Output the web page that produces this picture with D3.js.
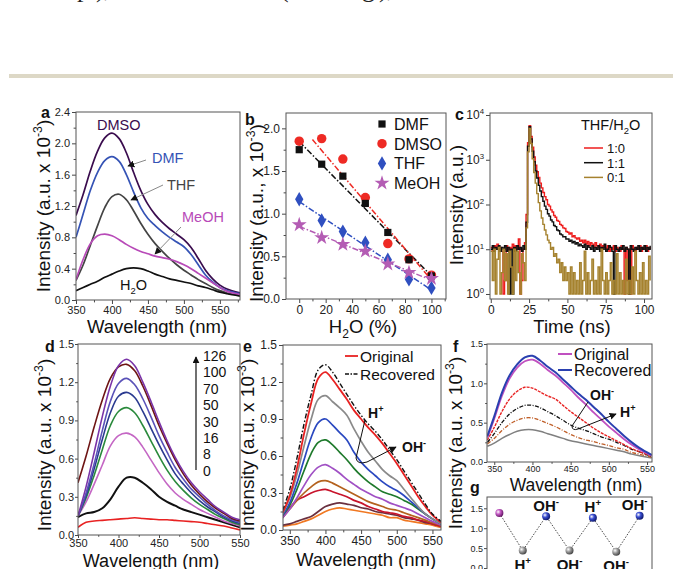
<!DOCTYPE html>
<html><head><meta charset="utf-8">
<script src="https://cdn.jsdelivr.net/npm/d3@7"></script>
<style>
body{margin:0;background:#fff}
svg{display:block;font-family:Arial,"Liberation Sans",Helvetica,sans-serif}
</style></head><body>
<svg id="fig" width="673" height="569"></svg>
<script>
// ================= DATA =================
// (a) emission spectra in different solvents
const aWavelength = [350,360,370,380,390,400,410,420,430,440,450,460,470,480,490,500,510,520,530,540,550,560,578];
const aDMSO = [1.08,1.35,1.65,1.90,2.07,2.13,2.06,1.88,1.63,1.40,1.22,1.09,0.99,0.91,0.84,0.77,0.67,0.53,0.38,0.27,0.19,0.14,0.09];
const aDMF  = [0.80,1.10,1.40,1.63,1.78,1.83,1.77,1.60,1.38,1.18,1.04,0.95,0.87,0.80,0.74,0.68,0.58,0.45,0.32,0.23,0.16,0.12,0.08];
const aTHF  = [0.25,0.45,0.70,0.95,1.18,1.32,1.35,1.28,1.14,0.98,0.84,0.72,0.62,0.53,0.45,0.38,0.32,0.26,0.21,0.16,0.12,0.09,0.06];
const aMeOH = [0.26,0.52,0.72,0.82,0.84,0.82,0.77,0.71,0.66,0.62,0.59,0.56,0.54,0.52,0.49,0.45,0.40,0.34,0.28,0.22,0.16,0.11,0.07];
const aH2O  = [0.12,0.16,0.20,0.24,0.29,0.33,0.37,0.40,0.41,0.40,0.37,0.33,0.30,0.27,0.25,0.23,0.21,0.18,0.16,0.13,0.10,0.08,0.05];
const aSolvents = ["DMSO","DMF","THF","MeOH","H2O"];

// (b) intensity vs water fraction
const bWater = [0,17,33,50,67,83,100];
const bDMF  = [1.75,1.58,1.44,1.12,0.78,0.46,0.27];
const bDMSO = [1.85,1.88,1.64,1.19,0.65,0.47,0.28];
const bTHF  = [1.17,0.92,0.79,0.66,0.46,0.23,0.13];
const bMeOH = [0.87,0.72,0.64,0.56,0.41,0.31,0.24];
const bNames = ["DMF","DMSO","THF","MeOH"];
const bFitRange = [[0,100],[10,98],[0,100],[0,100]];

// (c) fluorescence decay, counts per 1 ns channel starting at 0 ns
const cStep = 1;
const cRed = [11,9,12,10,13,10,11,9,1,2,12,9,11,10,13,9,12,10,17,1,2,10,14,
  60,2400,5800,3300,1900,1150,760,540,400,300,235,185,150,128,100,92,76,68,57,52,44,42,36,34,30,29,25,24,22,23,19,20,18,17,18,15,16,14,16,13,15,12,14,13,11,14,12,11,13,10,12,11,10,12,9,11,10,12,9,11,10,9,12,10,1,11,2,10,1,12,10,9,11,10,12,9,11,10,12,9,11,10];
const cBlack = [10,12,9,11,10,12,9,11,10,12,9,11,1,10,1,11,9,12,10,11,9,12,10,
  40,2000,5500,2900,1550,900,560,390,270,200,150,118,92,78,62,55,45,41,34,32,27,26,22,21,19,19,17,17,15,16,14,15,13,14,12,13,12,11,13,10,12,11,10,12,9,11,10,
  12,9,11,10,13,9,10,12,11,9,1,12,10,9,11,10,12,9,11,10,1,12,10,9,11,10,12,9,11,10,12,9,11,10,12];
const cGold = [9,2,10,1,6,11,1,3,10,2,8,1,9,4,1,10,2,9,3,1,8,5,2,
  30,1500,5000,2300,1050,520,300,175,110,72,50,36,27,21,16,14,10,11,7,8,5,6,3,5,2,4,2,3,1,4,1,
  3,1,2,1,5,1,2,9,1,3,1,2,6,1,2,1,4,1,10,2,1,3,1,2,5,1,2,1,8,1,3,1,2,1,6,1,2,1,4,1,9,2,1,3,1,5,1,2,1,7,2];
const cRatios = ["1:0","1:1","0:1"];

// (d) spectra vs concentration
const dWavelength = [350,360,370,380,390,400,410,420,430,440,450,460,470,480,490,500,510,520,530,540,550];
const d0   = [0.06,0.10,0.11,0.115,0.12,0.125,0.13,0.135,0.13,0.125,0.12,0.12,0.115,0.11,0.105,0.10,0.09,0.08,0.07,0.055,0.04];
const d8   = [0.14,0.17,0.18,0.21,0.28,0.38,0.45,0.45,0.41,0.36,0.30,0.26,0.23,0.20,0.18,0.16,0.14,0.12,0.10,0.08,0.06];
const d16  = [0.15,0.26,0.40,0.55,0.70,0.78,0.80,0.77,0.69,0.59,0.49,0.40,0.33,0.28,0.24,0.20,0.17,0.14,0.11,0.09,0.07];
const d30  = [0.15,0.29,0.47,0.67,0.86,0.97,1.00,0.96,0.86,0.74,0.62,0.51,0.42,0.35,0.29,0.24,0.20,0.16,0.13,0.10,0.08];
const d50  = [0.15,0.31,0.52,0.75,0.96,1.09,1.12,1.08,0.97,0.84,0.71,0.59,0.48,0.40,0.33,0.27,0.22,0.18,0.14,0.11,0.09];
const d70  = [0.15,0.33,0.56,0.82,1.05,1.19,1.23,1.18,1.07,0.93,0.78,0.65,0.53,0.44,0.36,0.30,0.24,0.19,0.15,0.12,0.10];
const d100 = [0.41,0.62,0.85,1.06,1.23,1.32,1.34,1.29,1.17,1.02,0.86,0.72,0.59,0.48,0.39,0.32,0.26,0.21,0.17,0.13,0.11];
const d126 = [0.15,0.38,0.65,0.93,1.17,1.33,1.38,1.33,1.20,1.05,0.89,0.74,0.61,0.50,0.41,0.34,0.28,0.22,0.18,0.14,0.12];
const dLevels = ["0","8","16","30","50","70","100","126"];

// (e) H+/OH- cycling, emission spectra
const eWavelength = [340,350,360,370,380,390,400,410,420,430,440,450,460,470,480,490,500,510,520,530,540,550,562];
const eRecovered = [0.16,0.33,0.58,0.86,1.10,1.30,1.34,1.28,1.19,1.10,1.01,0.93,0.86,0.80,0.73,0.65,0.57,0.48,0.39,0.30,0.21,0.13,0.07];
const eOriginal  = [0.14,0.28,0.50,0.78,1.03,1.23,1.28,1.22,1.14,1.06,0.97,0.90,0.83,0.77,0.70,0.62,0.54,0.45,0.36,0.27,0.19,0.12,0.06];
const eStep1 = [0.13,0.26,0.45,0.68,0.90,1.06,1.09,1.04,0.99,0.93,0.82,0.72,0.63,0.56,0.49,0.44,0.40,0.33,0.26,0.19,0.13,0.09,0.05];
const eStep2 = [0.12,0.22,0.38,0.57,0.75,0.87,0.90,0.85,0.79,0.73,0.63,0.55,0.49,0.44,0.39,0.35,0.32,0.28,0.23,0.18,0.13,0.09,0.05];
const eStep3 = [0.12,0.20,0.33,0.48,0.62,0.71,0.73,0.69,0.63,0.57,0.50,0.44,0.39,0.35,0.31,0.29,0.27,0.24,0.21,0.17,0.13,0.09,0.05];
const eStep4 = [0.10,0.17,0.26,0.36,0.45,0.51,0.53,0.50,0.46,0.41,0.37,0.33,0.30,0.27,0.25,0.22,0.20,0.18,0.16,0.13,0.10,0.07,0.04];
const eStep5 = [0.10,0.17,0.24,0.30,0.35,0.39,0.40,0.38,0.35,0.32,0.29,0.26,0.23,0.21,0.19,0.17,0.16,0.14,0.12,0.10,0.08,0.06,0.04];
const eStep6 = [0.10,0.18,0.24,0.27,0.30,0.32,0.33,0.31,0.29,0.27,0.24,0.22,0.19,0.17,0.15,0.14,0.13,0.11,0.10,0.08,0.07,0.05,0.03];
const eStep7 = [0.04,0.05,0.07,0.09,0.11,0.15,0.19,0.21,0.22,0.21,0.20,0.18,0.17,0.15,0.14,0.13,0.12,0.10,0.09,0.08,0.06,0.05,0.03];
const eStep8 = [0.03,0.04,0.05,0.07,0.09,0.12,0.15,0.17,0.18,0.17,0.16,0.15,0.14,0.13,0.12,0.10,0.10,0.08,0.07,0.06,0.05,0.04,0.02];

// (f) OH-/H+ cycling, emission spectra
const fWavelength = [341,350,360,370,380,390,400,410,420,430,440,450,460,470,480,490,500,510,520,530,540,556];
const fRecovered = [0.33,0.58,0.88,1.10,1.24,1.33,1.35,1.29,1.21,1.14,1.05,0.96,0.87,0.79,0.70,0.61,0.51,0.42,0.33,0.25,0.18,0.09];
const fOriginal  = [0.31,0.55,0.84,1.06,1.20,1.28,1.30,1.25,1.17,1.10,1.01,0.92,0.82,0.73,0.63,0.54,0.45,0.37,0.29,0.22,0.16,0.08];
const fStep1 = [0.28,0.44,0.64,0.80,0.90,0.95,0.94,0.89,0.84,0.80,0.72,0.64,0.57,0.50,0.43,0.37,0.32,0.27,0.22,0.17,0.13,0.08];
const fStep2 = [0.25,0.36,0.50,0.61,0.68,0.72,0.72,0.69,0.64,0.59,0.53,0.47,0.43,0.40,0.36,0.32,0.29,0.25,0.21,0.16,0.13,0.07];
const fStep3 = [0.23,0.30,0.40,0.48,0.53,0.56,0.56,0.53,0.49,0.45,0.40,0.35,0.31,0.28,0.26,0.23,0.21,0.18,0.16,0.12,0.10,0.06];
const fStep4 = [0.20,0.24,0.30,0.35,0.39,0.41,0.41,0.39,0.36,0.33,0.30,0.27,0.25,0.23,0.21,0.19,0.17,0.15,0.13,0.10,0.08,0.05];

// (g) reversible switching
const gCycle = [0,1,2,3,4,5,6];
const gIntensity = [1.38,0.44,1.30,0.44,1.26,0.41,1.31];
const gTreatment = ["","H+","OH-","OH-","H+","OH-","OH-"];

// ================= DRAWING =================
const FONT = 'Arial, "Liberation Sans", Helvetica, sans-serif';
const svg = d3.select('#fig');
const defs = svg.append('defs');

defs.append('marker').attr('id','arr').attr('viewBox','0 0 10 10').attr('refX',9).attr('refY',5)
  .attr('markerWidth',7).attr('markerHeight',7).attr('markerUnits','userSpaceOnUse').attr('orient','auto')
  .append('path').attr('d','M0,0 L10,5 L0,10 z').attr('fill','#111');

function ball(id, c1, c2){
  const rg = defs.append('radialGradient').attr('id',id).attr('cx','35%').attr('cy','35%').attr('r','65%');
  rg.append('stop').attr('offset','0%').attr('stop-color','#ffffff');
  rg.append('stop').attr('offset','45%').attr('stop-color',c1);
  rg.append('stop').attr('offset','100%').attr('stop-color',c2);
}
ball('ballM','#c45ac4','#6a1a6a'); ball('ballG','#a0a0a0','#4a4a4a'); ball('ballB','#3a4ed0','#101a70');

function rich(sel, parts, fs){
  let shift = 0;
  parts.forEach(([t,k])=>{
    const target = k==='sup' ? -0.4*fs : k==='sub' ? 0.25*fs : 0;
    const ts = sel.append('tspan').attr('dy', target-shift).text(t);
    if(k) ts.attr('font-size', fs*0.65);
    shift = target;
  });
  return sel;
}
function styleAxis(sel, fs){
  sel.select('.domain').remove();
  sel.selectAll('line').attr('stroke','#333').attr('stroke-width',0.9);
  sel.selectAll('text').attr('font-size',fs).attr('fill','#222').attr('font-family',FONT);
}
function panel(o){
  const x = d3.scaleLinear().domain(o.xd).range([o.l,o.r]);
  const y = (o.log ? d3.scaleLog() : d3.scaleLinear()).domain(o.yd).range([o.b,o.t]);
  const tk = o.tk || 4, pad = o.pad===undefined ? 2 : o.pad;
  const g = svg.append('g');
  const cid = 'clip-'+o.id;
  defs.append('clipPath').attr('id',cid).append('rect')
    .attr('x',o.l).attr('y',o.t).attr('width',o.r-o.l).attr('height',o.b-o.t);
  const plot = g.append('g').attr('clip-path',`url(#${cid})`);
  const over = g.append('g');
  if(o.xt){
    const ax = g.append('g').attr('transform',`translate(0,${o.b})`)
      .call(d3.axisBottom(x).tickValues(o.xt).tickSize(tk).tickSizeOuter(0).tickPadding(pad).tickFormat(o.xf||d3.format('d')));
    styleAxis(ax,o.fs);
  }
  if(o.xm){
    const ax = g.append('g').attr('transform',`translate(0,${o.b})`)
      .call(d3.axisBottom(x).tickValues(o.xm).tickSize(tk*0.6).tickSizeOuter(0).tickFormat(''));
    styleAxis(ax,o.fs);
  }
  if(o.yt){
    const ax = g.append('g').attr('transform',`translate(${o.l},0)`)
      .call(d3.axisLeft(y).tickValues(o.yt).tickSize(tk).tickSizeOuter(0).tickPadding(pad).tickFormat(o.yf||d3.format('.1f')));
    styleAxis(ax,o.fs);
    if(o.log){
      ax.selectAll('.tick text').each(function(d){
        const t = d3.select(this); t.text('10');
        t.append('tspan').attr('dy',-5).attr('font-size',o.fs*0.65).text(Math.round(Math.log10(d)));
      });
    }
  }
  if(o.ym){
    const ax = g.append('g').attr('transform',`translate(${o.l},0)`)
      .call(d3.axisLeft(y).tickValues(o.ym).tickSize(tk*0.6).tickSizeOuter(0).tickFormat(''));
    styleAxis(ax,o.fs);
  }
  g.append('rect').attr('x',o.l).attr('y',o.t).attr('width',o.r-o.l).attr('height',o.b-o.t)
    .attr('fill','none').attr('stroke','#555').attr('stroke-width',1);
  return {x,y,g,plot,over};
}
function curve(P, xs, ys, color, w, dash, cv){
  const line = d3.line().x((d,i)=>P.x(xs[i])).y(d=>P.y(d)).curve(cv||d3.curveCatmullRom.alpha(0.5));
  const p = P.plot.append('path').attr('d',line(ys)).attr('fill','none').attr('stroke',color).attr('stroke-width',w);
  if(dash) p.attr('stroke-dasharray',dash);
  return p;
}
function label(x,y,fs,parts,opts={}){
  const t = svg.append('text').attr('x',x).attr('y',y).attr('font-size',fs).attr('fill',opts.fill||'#111')
    .attr('font-family',FONT).attr('text-anchor',opts.anchor||'start');
  if(opts.bold) t.attr('font-weight','bold');
  return rich(t, parts, fs);
}
function ytitle(x,y,parts,fs=19){
  const t = svg.append('text').attr('transform',`translate(${x},${y}) rotate(-90)`).attr('text-anchor','middle')
    .attr('font-size',fs).attr('fill','#111').attr('font-family',FONT);
  rich(t, parts, fs);
}
const INT3 = [["Intensity (a.u. x 10",null],["-3","sup"],[")",null]];
const WAVE = [["Wavelength (nm)",null]];
function arrow(d, color='#111', w=1){
  svg.append('path').attr('d',d).attr('fill','none').attr('stroke',color).attr('stroke-width',w).attr('marker-end','url(#arr)');
}
function ion(s){ return s==='H+' ? [["H",null],["+","sup"]] : [["OH",null],["-","sup"]]; }

// ---- page fragments above figure ----
[["p",77],[")",96],[",",104],["(",280],["g",362],[")",379],[",",387]].forEach(([c,x])=>{
  svg.append('text').attr('x',x).attr('y',-3).attr('font-family','"Liberation Serif",serif').attr('font-size',26).attr('fill','#222').text(c);
});
svg.append('rect').attr('x',9).attr('y',74).attr('width',664).attr('height',4).attr('fill','#ddd8c6');

// ---------- panel a ----------
const A = panel({id:'a',l:76,r:240,t:112,b:300,xd:[350,578],yd:[0,2.4],
  xt:[350,400,450,500,550],xm:[375,425,475,525,575],yt:[0,0.4,0.8,1.2,1.6,2.0,2.4],ym:[0.2,0.6,1.0,1.4,1.8,2.2],fs:11});
const aColors = ['#3a0c4e','#3553b5','#444444','#b84ab8','#111111'];
[aDMSO,aDMF,aTHF,aMeOH,aH2O].forEach((s,i)=>curve(A,aWavelength,s,aColors[i],1.7));
label(97,130,14.5,[[aSolvents[0],null]],{fill:'#3a0c4e'});
label(152,163,14.5,[[aSolvents[1],null]],{fill:'#3553b5'});
label(167,190,14.5,[[aSolvents[2],null]],{fill:'#444'});
label(182,222,14.5,[[aSolvents[3],null]],{fill:'#b84ab8'});
label(120,290,14.5,[["H",null],["2","sub"],["O",null]],{fill:'#111'});
arrow('M146,160 L128,166','#888');
arrow('M163,185 L131,200','#888');
arrow('M181,227 L155,254','#888');
label(41,118,16,[["a",null]],{bold:true});
ytitle(50,206,INT3);
label(157,333,18.5,WAVE,{anchor:'middle'});

// ---------- panel b ----------
const B = panel({id:'b',l:286,r:446,t:113,b:299,xd:[-10,111],yd:[0,2.18],
  xt:[0,20,40,60,80,100],xm:[10,30,50,70,90,110],yt:[0,0.5,1.0,1.5,2.0],ym:[0.25,0.75,1.25,1.75],fs:12});
const bSeries = [bDMF,bDMSO,bTHF,bMeOH];
const bColors = ['#111111','#ee2a24','#2f4fc0','#b45cb4'];
const bSym = [d3.symbolSquare,d3.symbolCircle,d3.symbolDiamond,d3.symbolStar];
const bSize = [52,70,60,70];
bSeries.forEach((s,i)=>{
  const mx = d3.mean(bWater), my = d3.mean(s);
  const slope = d3.sum(bWater,(w,j)=>(w-mx)*(s[j]-my)) / d3.sum(bWater,w=>(w-mx)*(w-mx));
  const [x0,x1] = bFitRange[i];
  B.plot.append('line').attr('x1',B.x(x0)).attr('x2',B.x(x1))
    .attr('y1',B.y(my+slope*(x0-mx))).attr('y2',B.y(my+slope*(x1-mx)))
    .attr('stroke',bColors[i]).attr('stroke-width',1.5).attr('stroke-dasharray','6,2,1.5,2');
});
[1,0,2,3].forEach(i=>{
  B.over.selectAll(null).data(bSeries[i]).enter().append('path')
    .attr('transform',(d,j)=>`translate(${B.x(bWater[j])},${B.y(d)})`)
    .attr('d',d3.symbol().type(bSym[i]).size(bSize[i])).attr('fill',bColors[i]);
});
bNames.forEach((n,i)=>{
  const yy = 124 + i*19.7;
  svg.append('path').attr('transform',`translate(382,${yy})`).attr('d',d3.symbol().type(bSym[i]).size(bSize[i])).attr('fill',bColors[i]);
  label(394,yy+6,16,[[n,null]]);
});
label(245,125,16,[["b",null]],{bold:true});
ytitle(263,213,[["Intensity (a.u., x 10",null],["-3","sup"],[")",null]]);
label(363,333,18.5,[["H",null],["2","sub"],["O (%)",null]],{anchor:'middle'});

// ---------- panel c ----------
const C = panel({id:'c',l:490,r:652,t:113,b:299,xd:[-0.5,105.2],yd:[0.773,11090],log:true,
  xt:[0,25,50,75,100],xm:[12.5,37.5,62.5,87.5],yt:[1,10,100,1000,10000],fs:12});
const cColors = ['#ee1c1c','#111111','#a5822e'];
[cRed,cBlack,cGold].forEach((s,i)=>{
  const line = d3.line().x((d,j)=>C.x(j*cStep)).y(d=>C.y(Math.max(d,0.8))).curve(d3.curveStepAfter);
  C.plot.append('path').attr('d',line(s)).attr('fill','none').attr('stroke',cColors[i]).attr('stroke-width',1.4);
});
label(581,130,14.5,[["THF/H",null],["2","sub"],["O",null]]);
cRatios.forEach((r,i)=>{
  const yy = 148 + i*14.7;
  svg.append('line').attr('x1',584).attr('x2',603).attr('y1',yy).attr('y2',yy).attr('stroke',cColors[i]).attr('stroke-width',1.5);
  label(607,yy+5,13,[[r,null]]);
});
label(455,120,16,[["c",null]],{bold:true});
ytitle(463,205,[["Intensity (a.u.)",null]]);
label(572,333,18.5,[["Time (ns)",null]],{anchor:'middle'});

// ---------- panel d ----------
const D = panel({id:'d',l:78,r:240,t:344,b:535,xd:[350,550],yd:[0,1.5],tk:3,pad:1,
  xt:[350,400,450,500,550],xm:[375,425,475,525],yt:[0,0.3,0.6,0.9,1.2,1.5],ym:[0.15,0.45,0.75,1.05,1.35],fs:11});
const dColors = ['#e82222','#111111','#c466c4','#2a8a3c','#2a3a90','#5a52b8','#6e1414','#7a34a8'];
[d0,d8,d16,d30,d50,d70,d100,d126].forEach((s,i)=>curve(D,dWavelength,s,dColors[i],i===1?2:1.6));
arrow('M196,470 L196,357','#111',1.2);
dLevels.slice().reverse().forEach((lv,i)=>label(203,361+i*16.4,14,[[lv,null]]));
label(45,352,16,[["d",null]],{bold:true});
ytitle(51,445,INT3);
label(151,567,18,WAVE,{anchor:'middle'});

// ---------- panel e ----------
const E = panel({id:'e',l:283,r:441,t:345,b:530,xd:[340.5,562],yd:[0,1.5],
  xt:[350,400,450,500,550],xm:[375,425,475,525],yt:[0,0.3,0.6,0.9,1.2,1.5],ym:[0.15,0.45,0.75,1.05,1.35],fs:12});
const eColors = ['#8a8a8a','#2a48c0','#1f7a2c','#a050c4','#b4621e','#c8142c','#6a3040','#f07822'];
[eStep8,eStep7,eStep6,eStep5,eStep4,eStep3,eStep2,eStep1].forEach((s,i)=>curve(E,eWavelength,s,eColors[7-i],1.7));
curve(E,eWavelength,eOriginal,'#e82222',1.8);
curve(E,eWavelength,eRecovered,'#111',1.4,'5,2,1.5,2');
svg.append('line').attr('x1',345).attr('x2',358).attr('y1',356).attr('y2',356).attr('stroke','#e82222').attr('stroke-width',1.8);
label(360,362,15.5,[["Original",null]]);
svg.append('line').attr('x1',345).attr('x2',358).attr('y1',374).attr('y2',374).attr('stroke','#111').attr('stroke-width',1.4).attr('stroke-dasharray','4,1.5,1.5,1.5');
label(360,380,15.5,[["Recovered",null]]);
label(368,418,14,ion('H+'),{bold:true});
label(402,452,14,ion('OH-'),{bold:true});
arrow('M365,420 L356,458 Q357,465 367,462 L396,447','#111',1);
label(243,352,16,[["e",null]],{bold:true});
ytitle(254,445,INT3);
label(366,566,18.5,WAVE,{anchor:'middle'});

// ---------- panel f ----------
const F = panel({id:'f',l:487,r:652,t:344,b:462,xd:[340.5,556.5],yd:[0,1.5],tk:3,pad:1,
  xt:[350,400,450,500,550],xm:[375,425,475,525],yt:[0,0.5,1.0,1.5],ym:[0.25,0.75,1.25],fs:9});
curve(F,fWavelength,fStep4,'#808080',1.5);
curve(F,fWavelength,fStep3,'#c0602a',1.3,'4,1.5,1,1.5');
curve(F,fWavelength,fStep2,'#111',1.3,'4,1.5,1,1.5');
curve(F,fWavelength,fStep1,'#e82222',1.4,'3,1');
curve(F,fWavelength,fOriginal,'#c050c0',1.8);
curve(F,fWavelength,fRecovered,'#2a40b0',2);
svg.append('line').attr('x1',558).attr('x2',572).attr('y1',354).attr('y2',354).attr('stroke','#c050c0').attr('stroke-width',2);
label(574,360,16,[["Original",null]]);
svg.append('line').attr('x1',558).attr('x2',572).attr('y1',370).attr('y2',370).attr('stroke','#2a40b0').attr('stroke-width',2);
label(574,376,16,[["Recovered",null]]);
label(590,400,14,ion('OH-'),{bold:true});
label(620,417,14,ion('H+'),{bold:true});
arrow('M588,402 L572,426 Q572,431 578,429 L616,414','#111',1);
label(453,352,16,[["f",null]],{bold:true});
ytitle(462,443,INT3);
label(576,491,17.5,WAVE,{anchor:'middle'});

// ---------- panel g ----------
const G = panel({id:'g',l:487,r:652,t:497,b:575,xd:[-0.53,6.53],yd:[-0.175,1.784],tk:3,pad:1,
  yt:[0,0.5,1.0,1.5],fs:9});
const gLine = d3.line().x((d,i)=>G.x(gCycle[i])).y(d=>G.y(d));
G.plot.append('path').attr('d',gLine(gIntensity)).attr('fill','none').attr('stroke','#333').attr('stroke-width',0.9).attr('stroke-dasharray','1.5,1.5');
G.over.selectAll(null).data(gIntensity).enter().append('circle')
  .attr('cx',(d,i)=>G.x(gCycle[i])).attr('cy',d=>G.y(d)).attr('r',4)
  .attr('fill',(d,i)=> i===0 ? 'url(#ballM)' : (d<1 ? 'url(#ballG)' : 'url(#ballB)'));
gTreatment.forEach((t,i)=>{
  if(!t) return;
  const v = gIntensity[i];
  const yy = v<1 ? G.y(v)+19 : G.y(v)-5.5;
  label(G.x(gCycle[i]) + (i===6?-5:0), yy, 15, ion(t), {bold:true, anchor:'middle'});
});
label(470,493,16,[["g",null]],{bold:true});
</script></body></html>
